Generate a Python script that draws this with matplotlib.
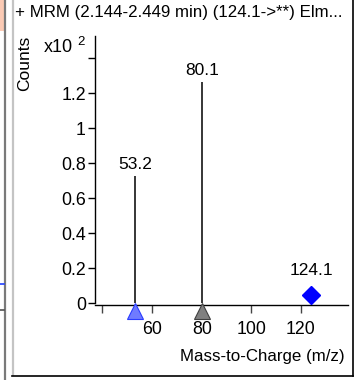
import matplotlib
matplotlib.use("Agg")
import matplotlib.pyplot as plt
from matplotlib.lines import Line2D
from matplotlib.patches import Rectangle
from matplotlib.transforms import ScaledTranslation

plt.rcParams['font.family'] = ['Liberation Sans', 'DejaVu Sans']

# Data
title = "+ MRM (2.144-2.449 min) (124.1->**) Elm..."
product_mz = [53.2, 80.1]
product_counts = [0.726, 1.263]          # x10^2
product_marker_colors = ['#6f7bff', '#808080']
product_marker_edges = ['#2a3cff', '#404040']
precursor_mz = [124.1]
precursor_counts = [0.045]
x_ticks = [40, 60, 80, 100, 120]
x_tick_labels = ['', '60', '80', '100', '120']
y_ticks = [0, 0.2, 0.4, 0.6, 0.8, 1.0, 1.2, 1.4]
y_tick_labels = ['0', '0.2', '0.4', '0.6', '0.8', '1', '1.2', '']

W, H = 355, 380
fig = plt.figure(figsize=(W / 100, H / 100), dpi=100)

def fx(x):
    return x / W

def fy(y):
    return 1 - y / H

ax = fig.add_axes([fx(95), fy(303), fx(348) - fx(95), fy(36) - fy(303)])
ax.set_xlim(37.0, 138.95)
ax.set_ylim(0, 1.526)

for x, y in zip(product_mz, product_counts):
    ax.vlines(x, 0, y, color='black', lw=1.1)
    ax.annotate(f"{x:.1f}", (x, y), xytext=(0, 3), textcoords='offset points',
                ha='center', va='bottom', fontsize=12.5)
shift = ScaledTranslation(0, -8.0 / 100, fig.dpi_scale_trans)
for x, c, e in zip(product_mz, product_marker_colors, product_marker_edges):
    ax.plot([x], [0], marker='^', markersize=12, color=c, markeredgecolor=e,
            markeredgewidth=0.8, clip_on=False, zorder=5,
            transform=ax.transData + shift)
for x, y in zip(precursor_mz, precursor_counts):
    ax.plot([x], [y], marker='D', markersize=9.5, color='#0000ff', clip_on=False, zorder=5)
    ax.annotate(f"{x:.1f}", (x, y), xytext=(0, 12), textcoords='offset points',
                ha='center', va='bottom', fontsize=12.5)

ax.set_xticks(x_ticks)
ax.set_xticklabels(x_tick_labels)
ax.set_yticks(y_ticks)
ax.set_yticklabels(y_tick_labels)
ax.tick_params(axis='both', direction='out', length=5, width=1, labelsize=12.8, colors='black')
ax.tick_params(axis='y', pad=1.5)
ax.tick_params(axis='x', length=6, pad=5.5, color='#444444')
ax.spines['top'].set_visible(False)
ax.spines['right'].set_visible(False)
ax.spines['bottom'].set_position(('outward', 1.5))
for s in ('left', 'bottom'):
    ax.spines[s].set_linewidth(1)

# Texts outside axes
fig.text(fx(15), fy(12), title, fontsize=12.2, ha='left', va='center')
fig.text(fx(25), fy(63), 'Counts', fontsize=12.5, rotation=90, ha='center', va='center')
fig.text(fx(44), fy(47), 'x10', fontsize=13, ha='left', va='center')
fig.text(fx(77), fy(42), '2', fontsize=9.5, ha='left', va='center')
fig.text(fx(345), fy(357), 'Mass-to-Charge (m/z)', fontsize=12.2, ha='right', va='center')

# Panel frame and neighbouring panel sliver
fig.patches.append(Rectangle((0, fy(31)), fx(4), fy(0) - fy(31), transform=fig.transFigure,
                             facecolor='#fbcab4', edgecolor='none'))
fig.lines.append(Line2D([fx(5), fx(5)], [fy(0), fy(379)], transform=fig.transFigure, color='#7a7a7a', lw=1.6))
fig.lines.append(Line2D([fx(12.5), fx(12.5)], [fy(0), fy(375)], transform=fig.transFigure, color='#c4c4c4', lw=1.6))
fig.lines.append(Line2D([fx(12), fx(352.5)], [fy(375.5), fy(375.5)], transform=fig.transFigure, color='black', lw=1.2))
fig.lines.append(Line2D([fx(352.5), fx(352.5)], [fy(0), fy(375.5)], transform=fig.transFigure, color='black', lw=1.2))
fig.lines.append(Line2D([fx(0), fx(3.5)], [fy(284), fy(284)], transform=fig.transFigure, color='#2040ff', lw=1.2))
fig.lines.append(Line2D([fx(0), fx(3.5)], [fy(310), fy(310)], transform=fig.transFigure, color='#505050', lw=1.2))

fig.savefig('out.png', dpi=100)
